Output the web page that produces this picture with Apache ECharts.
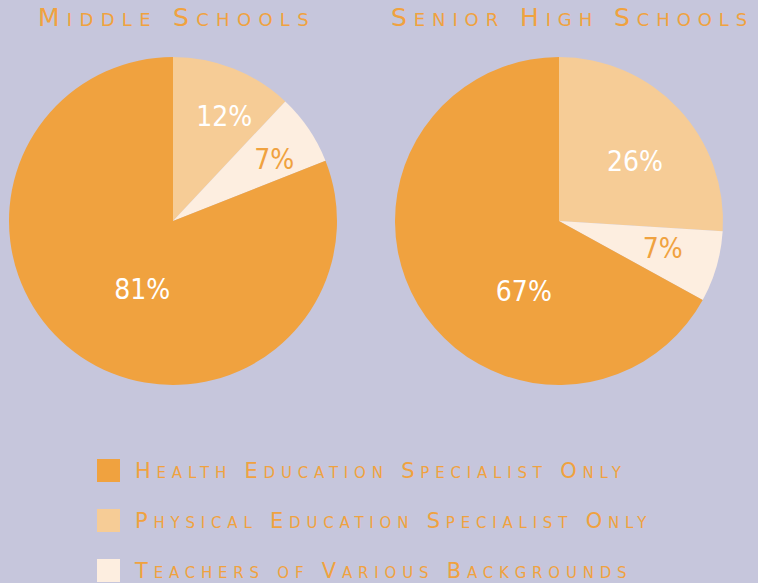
<!DOCTYPE html>
<html>
<head>
<meta charset="utf-8">
<script src="https://cdn.jsdelivr.net/npm/echarts@6/dist/echarts.min.js"></script>
<style>
  html, body { margin: 0; padding: 0; background: #c6c6dc; }
  #chart { width: 758px; height: 583px; }
  text[style*="Verdana"] { font-variant: small-caps !important; letter-spacing: 7.3px; }
  text[style*="Geneva"] { font-variant: small-caps !important; letter-spacing: 6.9px; }
  text[style*="Tahoma"] { font-variant: small-caps !important; letter-spacing: 5.8px; }
</style>
</head>
<body>
<div id="chart"></div>
<script>
// ---- data ----
const categories = ['Health Education Specialist Only', 'Physical Education Specialist Only', 'Teachers of Various Backgrounds'];
const pieTitles = ['Middle Schools', 'Senior High Schools'];
const middleValues = [81, 12, 7];   // same order as categories
const seniorValues = [67, 26, 7];   // same order as categories

// ---- styles ----
const colors = ['#f0a23f', '#f6cc96', '#fdeee0'];
const labelColors = ['#ffffff', '#ffffff', '#f0a23f'];
const drawOrder = [1, 2, 0]; // clockwise from 12 o'clock
const middleOffsets = [[17, -2], [20, -25], [31, -14]];
const seniorOffsets = [[38, 27], [14, -1], [22, 4]];

function buildData(values, offsets) {
  return drawOrder.map(i => ({
    name: categories[i],
    value: values[i],
    itemStyle: { color: colors[i] },
    label: { color: labelColors[i], offset: offsets[i] }
  }));
}

const chart = echarts.init(document.getElementById('chart'), null, { renderer: 'svg' });
const pieBase = {
  type: 'pie',
  radius: 164,
  startAngle: 90,
  clockwise: true,
  avoidLabelOverlap: false,
  silent: true,
  itemStyle: { borderWidth: 0 },
  label: {
    show: true,
    position: 'inside',
    formatter: '{c}%',
    fontFamily: "'DejaVu Sans Condensed', 'DejaVu Sans', sans-serif",
    fontSize: 28
  },
  labelLine: { show: false },
  emphasis: { disabled: true }
};

const titleStyle = { color: '#f0a23f', fontWeight: 'normal', fontSize: 25, fontFamily: "'DejaVu Sans', Verdana" };
const titleStyle2 = Object.assign({}, titleStyle, { fontFamily: "'DejaVu Sans', Geneva" });

chart.setOption({
  backgroundColor: '#c6c6dc',
  animation: false,
  title: [
    { text: pieTitles[0], left: 38, top: 5, padding: 0, textStyle: titleStyle },
    { text: pieTitles[1], left: 391, top: 5, padding: 0, textStyle: titleStyle2 }
  ],
  legend: {
    orient: 'vertical',
    left: 97,
    top: 459,
    padding: 0,
    itemWidth: 23,
    itemHeight: 23,
    itemGap: 27,
    icon: 'rect',
    selectedMode: false,
    data: categories,
    textStyle: { color: '#f0a23f', fontSize: 21, fontFamily: "'DejaVu Sans', Tahoma", padding: [0, 0, 0, 10] }
  },
  series: [
    Object.assign({}, pieBase, { name: pieTitles[0], center: [173, 221], data: buildData(middleValues, middleOffsets) }),
    Object.assign({}, pieBase, { name: pieTitles[1], center: [559, 221], data: buildData(seniorValues, seniorOffsets) })
  ]
});
</script>
</body>
</html>
